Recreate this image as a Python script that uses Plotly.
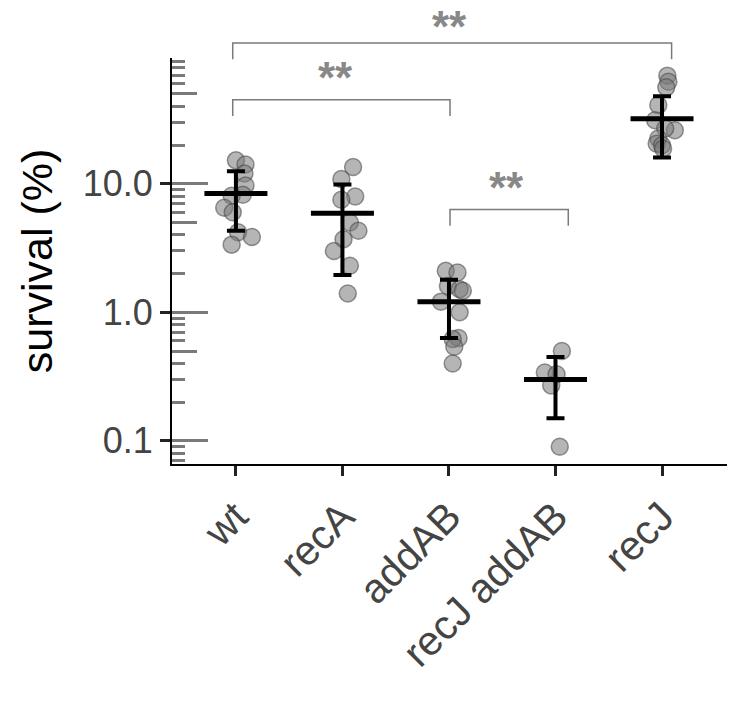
import plotly.graph_objects as go

categories = ["wt", "recA", "addAB", "recJ addAB", "recJ"]

# individual survival values (%) per strain
wt_vals = [15.2, 14.1, 12.0, 9.7, 8.2, 8.06, 6.5, 6.0, 4.2, 3.85, 3.36]
recA_vals = [13.5, 10.9, 7.96, 7.5, 5.0, 4.31, 3.7, 3.0, 2.3, 1.4]
addAB_vals = [2.1, 2.04, 1.6, 1.51, 1.47, 1.21, 1.0, 0.63, 0.62, 0.54, 0.40]
recJaddAB_vals = [0.50, 0.34, 0.33, 0.27, 0.09]
recJ_vals = [69.3, 62.2, 56.2, 40.9, 31.2, 26.1, 26.9, 22.5, 20.5, 19.9, 18.7]

# horizontal jitter of the dots (category units)
wt_jit = [0.0, 0.09, 0.08, 0.09, 0.065, -0.04, -0.11, -0.03, 0.02, 0.15, -0.04]
recA_jit = [0.10, -0.01, 0.12, -0.01, 0.07, 0.15, 0.01, -0.08, 0.07, 0.05]
addAB_jit = [-0.03, 0.08, -0.01, 0.10, 0.13, -0.075, 0.10, 0.09, 0.035, 0.05, 0.035]
recJaddAB_jit = [0.06, -0.10, 0.01, -0.04, 0.04]
recJ_jit = [0.05, 0.06, 0.04, -0.035, -0.065, 0.12, 0.03, -0.035, -0.05, 0.0, 0.01]

means = [8.4, 5.9, 1.21, 0.30, 32.0]
sds = [4.1, 3.95, 0.58, 0.15, 16.0]

ytick_vals = [0.1, 1, 10]
ytick_text = ["0.1", "1.0", "10.0"]
medium_ticks = [0.5, 5, 50]
minor_ticks = [d * m for d in (0.01, 0.1, 1, 10) for m in (2, 3, 4, 6, 7, 8, 9)]

# significance brackets: (x start, x end, bracket paper y, label x, label paper y, anchor, label)
brackets = [(-0.03, 4.09, 1.037, 2.005, 1.1429, "top", "**"),
            (-0.03, 2.01, 0.897, 0.934, 0.953, "middle", "**"),
            (2.01, 3.12, 0.627, 2.54, 0.682, "middle", "**")]

all_vals = [wt_vals, recA_vals, addAB_vals, recJaddAB_vals, recJ_vals]
all_jit = [wt_jit, recA_jit, addAB_jit, recJaddAB_jit, recJ_jit]

FONT = "Liberation Sans, Arial, Helvetica, sans-serif"
GRAY = "#7a7a7a"
YR = [-1.18, 1.978]

fig = go.Figure()
for i, (vals, jit) in enumerate(zip(all_vals, all_jit)):
    fig.add_trace(go.Scatter(
        x=[i + j for j in jit], y=vals, mode="markers",
        marker=dict(size=17, color="rgba(120,120,120,0.55)",
                    line=dict(color="rgba(70,70,70,0.55)", width=1.5)),
        showlegend=False, hoverinfo="y"))

fig.add_trace(go.Scatter(
    x=list(range(len(categories))), y=means, mode="markers",
    marker=dict(symbol="line-ew", size=45, line=dict(color="black", width=5)),
    error_y=dict(type="data", array=sds, visible=True, color="black",
                 thickness=4, width=9),
    showlegend=False))

for x0, x1, yp, tx, ty, anc, lab in brackets:
    fig.add_shape(type="path",
                  path=f"M {x0},{yp-0.04} L {x0},{yp} L {x1},{yp} L {x1},{yp-0.04}",
                  xref="x", yref="paper", line=dict(color=GRAY, width=1.5))
    fig.add_annotation(x=tx, y=ty, xref="x", yref="paper",
                       text=f"<b>{lab}</b>", showarrow=False, yanchor=anc,
                       font=dict(size=44, color="#888888", family=FONT))

fig.update_layout(
    width=750, height=704,
    margin=dict(l=172, r=23, t=58, b=240),
    plot_bgcolor="white", paper_bgcolor="white",
    font=dict(family=FONT),
    xaxis=dict(range=[-0.6, 4.61], tickmode="array",
               tickvals=list(range(len(categories))), ticktext=categories,
               tickangle=-45, tickfont=dict(size=41, color="#444444"),
               showline=True, linecolor="black", linewidth=2,
               ticks="outside", ticklen=10, tickwidth=3, tickcolor="#222222",
               showgrid=False, zeroline=False, automargin=False),
    yaxis=dict(type="log", range=YR, tickmode="array",
               tickvals=ytick_vals, ticktext=ytick_text,
               tickfont=dict(size=36, color="#444444"),
               showline=True, linecolor="black", linewidth=2,
               ticks="outside", ticklen=10, tickwidth=3, tickcolor="#222222",
               showgrid=False, zeroline=False, automargin=False,
               title=dict(text="survival (%)", standoff=17,
                          font=dict(size=43, color="black"))),
    yaxis2=dict(type="log", range=YR, overlaying="y", side="left",
                tickmode="array", tickvals=ytick_vals, showticklabels=False,
                ticks="inside", ticklen=36, tickwidth=3, tickcolor=GRAY,
                minor=dict(tickmode="array", tickvals=minor_ticks, ticks="inside",
                           ticklen=13, tickwidth=3, tickcolor=GRAY),
                showline=False, showgrid=False, zeroline=False, automargin=False),
    yaxis3=dict(type="log", range=YR, overlaying="y", side="left",
                tickmode="array", tickvals=medium_ticks, showticklabels=False,
                ticks="inside", ticklen=25, tickwidth=3, tickcolor=GRAY,
                showline=False, showgrid=False, zeroline=False, automargin=False),
)
# dummy traces to activate the overlay axes
fig.add_trace(go.Scatter(x=[None], y=[None], yaxis="y2", showlegend=False))
fig.add_trace(go.Scatter(x=[None], y=[None], yaxis="y3", showlegend=False))

fig.write_html("out.html", config={"displayModeBar": False},
               post_script="document.body.style.margin='0';")
